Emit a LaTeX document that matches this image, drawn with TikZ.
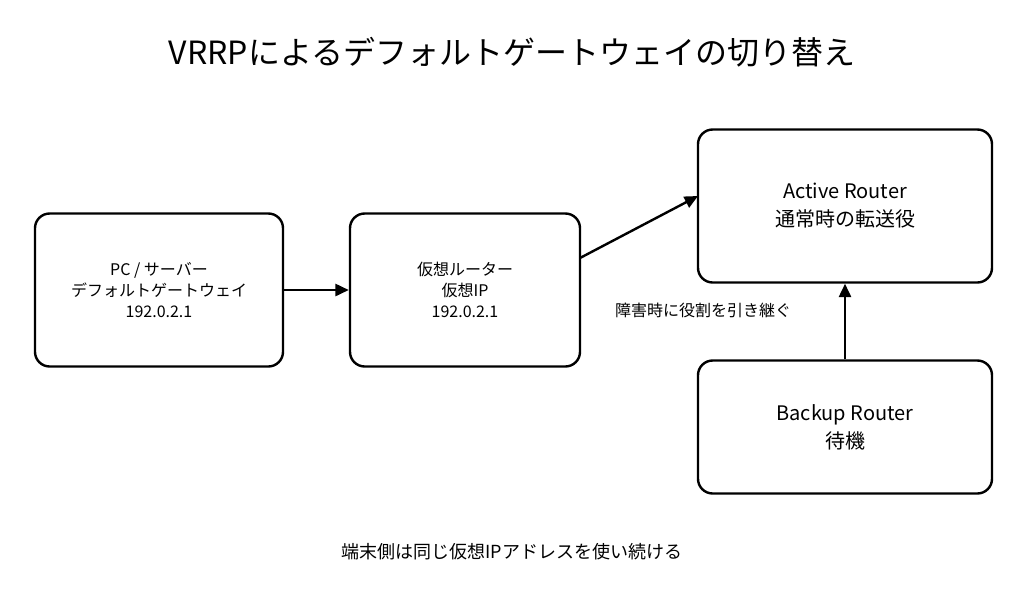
\documentclass[tikz,border=0pt]{standalone}
\usepackage{fontspec}
\setmainfont{Noto Sans CJK JP}
\usetikzlibrary{arrows.meta,positioning}

\begin{document}
\begin{tikzpicture}[x=0.75pt,y=-0.75pt,
                box/.style = {draw, line width=1.8pt, rounded corners=11pt, align=center, inner sep=0pt},
                link/.style = {line width=1.8pt, -{Triangle[length=10pt,width=9pt]}},
                every node/.style = {font=\fontsize{12}{16}\selectfont}
                ]
                \useasboundingbox (0,0) rectangle (1024,597);
                \node (title) at (512,52) {\fontsize{24}{28}\selectfont VRRPによるデフォルトゲートウェイの切り替え};
                \node[box, minimum width=186pt, minimum height=114.75pt] (pc) at (159,290)
                    {PC / サーバー\\デフォルトゲートウェイ\\192.0.2.1};
                \node[box, minimum width=172.5pt, minimum height=114.75pt] (vip) at (465,290)
                    {仮想ルーター\\仮想IP\\192.0.2.1};
                \node[box, minimum width=220.5pt, minimum height=114.75pt,
                      font=\fontsize{15}{21}\selectfont] (active) at (845,206)
                    {Active Router\\通常時の転送役};
                \node[box, minimum width=220.5pt, minimum height=99.75pt,
                      font=\fontsize{15}{21}\selectfont] (backup) at (845,427)
                    {Backup Router\\待機};
                \coordinate (vipout) at (580,258);
                \coordinate (actin) at (698,196);
                \draw[link] (pc) -- (vip);
                \draw[link] (vipout) -- (actin);
                \draw[link] (backup) -- (active);
                \node (takeover) at (703,310) {障害時に役割を引き継ぐ};
                \node (note) at (512,552) {\fontsize{13.5}{18}\selectfont 端末側は同じ仮想IPアドレスを使い続ける};
            \end{tikzpicture}
\end{document}
